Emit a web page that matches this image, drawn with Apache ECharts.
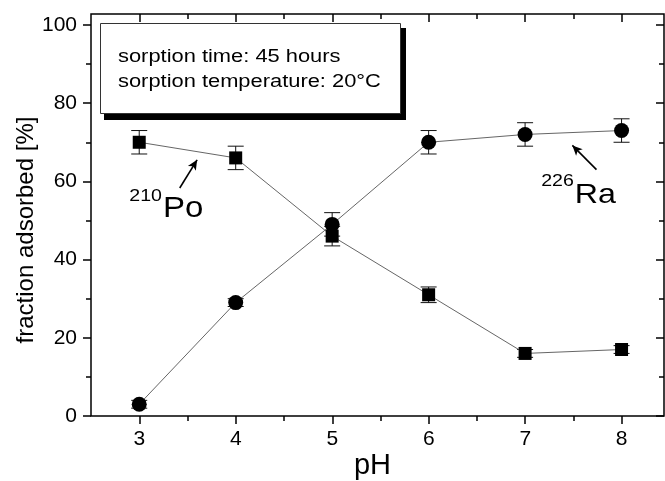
<!DOCTYPE html>
<html><head><meta charset="utf-8">
<script src="https://cdn.jsdelivr.net/npm/echarts@6/dist/echarts.min.js"></script>
<style>html,body{margin:0;padding:0;background:#fff}#c{width:665px;height:481px}</style>
</head><body><div id="c"></div>
<script>
// ---- data ----
const pH = [3, 4, 5, 6, 7, 8];
const po = [70, 66, 46, 31, 16, 17];
const poErr = [3, 3, 2.5, 2, 1, 1];
const ra = [3, 29, 49, 70, 72, 73];
const raErr = [1, 1, 3, 3, 3, 3];
const boxLines = ['sorption time: 45 hours', 'sorption temperature: 20°C'];
const poLabel = ['210', 'Po'];
const raLabel = ['226', 'Ra'];

const FONT = '"Liberation Sans", Arial, Helvetica, sans-serif';
const chart = echarts.init(document.getElementById('c'), null, {renderer: 'canvas'});

function errSeries(vals, errs) {
  return {
    type: 'custom', xAxisIndex: 0, yAxisIndex: 0, silent: true, z: 3,
    data: pH.map((x, i) => [x, vals[i] - errs[i], vals[i] + errs[i]]),
    encode: {x: 0, y: [1, 2]},
    renderItem: (params, api) => {
      const x = api.value(0);
      const lo = api.coord([x, api.value(1)]);
      const hi = api.coord([x, api.value(2)]);
      const w = 8;
      const st = {stroke: '#111', lineWidth: 1};
      return {type: 'group', children: [
        {type: 'line', shape: {x1: lo[0], y1: lo[1], x2: hi[0], y2: hi[1]}, style: st},
        {type: 'line', shape: {x1: lo[0] - w, y1: lo[1], x2: lo[0] + w, y2: lo[1]}, style: st},
        {type: 'line', shape: {x1: hi[0] - w, y1: hi[1], x2: hi[0] + w, y2: hi[1]}, style: st}
      ]};
    }
  };
}

const tickStyle = {color: '#000', width: 1.5};
const hidden = {axisLine: {show: false}, axisTick: {show: false}, axisLabel: {show: false}, splitLine: {show: false}};
const option = {
  backgroundColor: '#fff',
  animation: false,
  grid: [
    {left: 91, right: 1, top: 14, bottom: 65, outerBoundsMode: 'none', containLabel: false,
     show: true, borderColor: '#000', borderWidth: 1.5, backgroundColor: 'transparent'},
    {left: 139.3, right: 43.3, top: 14, bottom: 65, outerBoundsMode: 'none', containLabel: false},
    {left: 91, right: 1, top: 25, bottom: 65, outerBoundsMode: 'none', containLabel: false}
  ],
  xAxis: [
    Object.assign({gridIndex: 0, type: 'value', min: 2.5, max: 8.44,
     name: 'pH', nameLocation: 'middle', nameGap: 35,
     nameTextStyle: {fontFamily: FONT, fontSize: 29, color: '#000', padding: [0, 10, 0, 0]}}, hidden),
    {gridIndex: 1, type: 'value', min: 3, max: 8, interval: 1, position: 'bottom',
     axisLine: {show: false}, axisTick: {length: 8, lineStyle: tickStyle},
     minorTick: {show: true, splitNumber: 2, length: 5, lineStyle: tickStyle},
     axisLabel: {fontFamily: FONT, fontSize: 21, color: '#000', margin: 13}, splitLine: {show: false}},
    {gridIndex: 1, type: 'value', min: 3, max: 8, interval: 1, position: 'top',
     axisLine: {show: false}, axisTick: {inside: true, length: 8, lineStyle: tickStyle},
     minorTick: {show: true, splitNumber: 2, length: 5, lineStyle: tickStyle},
     axisLabel: {show: false}, splitLine: {show: false}},
    Object.assign({gridIndex: 2, type: 'value', min: 0, max: 1}, hidden)
  ],
  yAxis: [
    Object.assign({gridIndex: 0, type: 'value', min: 0, max: 102.8,
     name: 'fraction adsorbed [%]', nameLocation: 'middle', nameGap: 53,
     nameTextStyle: {fontFamily: FONT, fontSize: 24, color: '#000', padding: [0, 30, 0, 0]}}, hidden),
    {gridIndex: 2, type: 'value', min: 0, max: 100, interval: 20, position: 'left',
     axisLine: {show: false}, axisTick: {length: 8, lineStyle: tickStyle},
     minorTick: {show: true, splitNumber: 2, length: 5, lineStyle: tickStyle},
     axisLabel: {fontFamily: FONT, fontSize: 21, color: '#000', margin: 14}, splitLine: {show: false}},
    {gridIndex: 2, type: 'value', min: 0, max: 100, interval: 20, position: 'right',
     axisLine: {show: false}, axisTick: {inside: true, length: 8, lineStyle: tickStyle},
     minorTick: {show: true, splitNumber: 2, length: 5, lineStyle: tickStyle},
     axisLabel: {show: false}, splitLine: {show: false}},
    Object.assign({gridIndex: 1, type: 'value', min: 0, max: 1}, hidden)
  ],
  series: [
    errSeries(po, poErr),
    errSeries(ra, raErr),
    {type: 'line', name: '210Po', xAxisIndex: 0, yAxisIndex: 0, z: 4,
     data: pH.map((x, i) => [x, po[i]]), symbol: 'rect', symbolSize: 13,
     itemStyle: {color: '#000'}, lineStyle: {color: '#666', width: 1},
     markLine: {silent: true, symbol: ['none', 'arrow'], symbolSize: [7, 10],
       lineStyle: {color: '#000', width: 1.6, type: 'solid'}, label: {show: false},
       data: [[{coord: [3.42, 58.3]}, {coord: [3.60, 65.5]}]]}},
    {type: 'line', name: '226Ra', xAxisIndex: 0, yAxisIndex: 0, z: 4,
     data: pH.map((x, i) => [x, ra[i]]), symbol: 'circle', symbolSize: 15,
     itemStyle: {color: '#000'}, lineStyle: {color: '#666', width: 1},
     markLine: {silent: true, symbol: ['none', 'arrow'], symbolSize: [7, 10],
       lineStyle: {color: '#000', width: 1.6, type: 'solid'}, label: {show: false},
       data: [[{coord: [7.74, 63]}, {coord: [7.49, 69.2]}]]}}
  ]
};
chart.setOption(option);

function px(p) { return chart.convertToPixel({gridIndex: 0}, p); }
const poPos = px([3.246, 52.9]), poSup = px([3.246, 56.3]);
const raPos = px([7.516, 56.5]), raSup = px([7.516, 60.1]);

chart.setOption({graphic: [
  {type: 'rect', left: 104, top: 28, shape: {width: 302, height: 92}, style: {fill: '#000'}, z: 10, silent: true},
  {type: 'rect', left: 100, top: 23, shape: {width: 300, height: 90}, style: {fill: '#fff', stroke: '#333', lineWidth: 1}, z: 11, silent: true},
  {type: 'text', x: 118, y: 57, scaleX: 1.25, z: 12, silent: true,
   style: {text: boxLines[0], font: '17.5px ' + FONT, fill: '#000', verticalAlign: 'middle', align: 'left'}},
  {type: 'text', x: 118, y: 82, scaleX: 1.25, z: 12, silent: true,
   style: {text: boxLines[1], font: '17.5px ' + FONT, fill: '#000', verticalAlign: 'middle', align: 'left'}},
  {type: 'text', x: poPos[0], y: poPos[1], scaleX: 1.1, z: 12, silent: true,
   style: {text: poLabel[1], font: '30px ' + FONT, fill: '#000', verticalAlign: 'middle', align: 'left'}},
  {type: 'text', x: poSup[0] - 1, y: poSup[1], scaleX: 1.15, z: 12, silent: true,
   style: {text: poLabel[0], font: '17px ' + FONT, fill: '#000', verticalAlign: 'middle', align: 'right'}},
  {type: 'text', x: raPos[0], y: raPos[1], scaleX: 1.15, z: 12, silent: true,
   style: {text: raLabel[1], font: '28px ' + FONT, fill: '#000', verticalAlign: 'middle', align: 'left'}},
  {type: 'text', x: raSup[0] - 1, y: raSup[1], scaleX: 1.15, z: 12, silent: true,
   style: {text: raLabel[0], font: '17px ' + FONT, fill: '#000', verticalAlign: 'middle', align: 'right'}}
]});
</script>
</body></html>
